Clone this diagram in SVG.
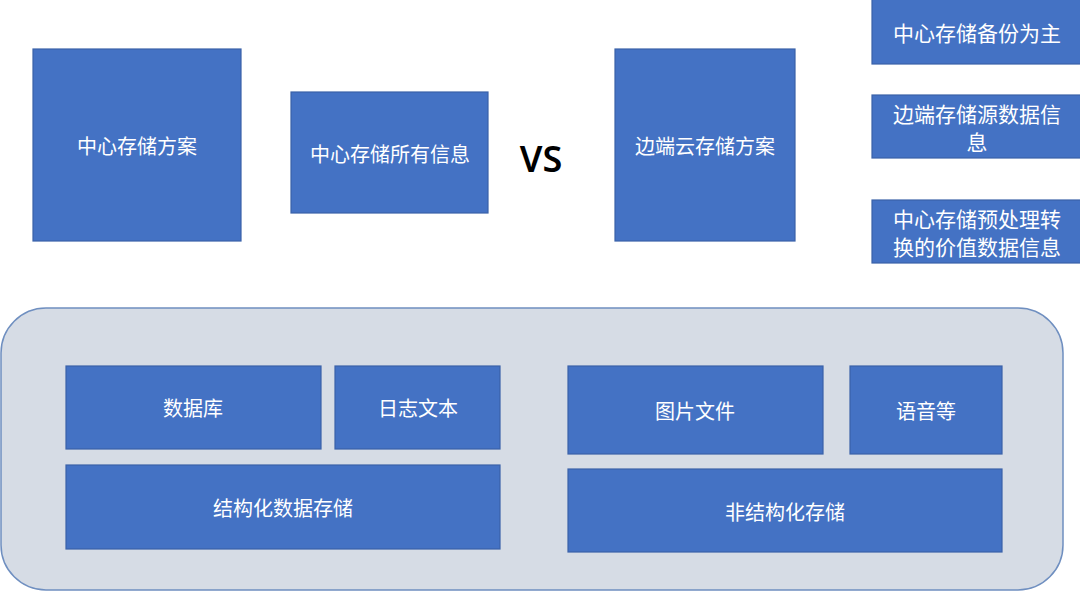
<svg xmlns="http://www.w3.org/2000/svg" width="1080" height="591" viewBox="0 0 1080 591">
<style>
.b{fill:#4472c4;stroke:#3a62a8;stroke-width:1.2}
.t{fill:#fff;font-family:"Noto Sans CJK SC","Liberation Sans",sans-serif;font-size:20px;text-anchor:middle;dominant-baseline:central}
.s{font-size:21px}
.vs{fill:#000;font-family:"Noto Sans","Liberation Sans",sans-serif;font-size:36px;font-weight:600;text-anchor:middle;dominant-baseline:central}
</style>
<rect width="1080" height="591" fill="#fff"/>
<g id="container"><rect x="1" y="308" width="1062" height="282" rx="45" fill="#d6dce5" stroke="#6f8fc0" stroke-width="1.5"/></g>
<g id="n1"><rect class="b" x="33" y="49" width="208" height="192"/><text class="t" x="137" y="145">中心存储方案</text></g>
<g id="n2"><rect class="b" x="291" y="92" width="197" height="121"/><text class="t" x="390" y="153">中心存储所有信息</text></g>
<g id="vs"><text class="vs" x="541" y="158">VS</text></g>
<g id="n3"><rect class="b" x="615" y="49" width="180" height="192"/><text class="t" x="705" y="145">边端云存储方案</text></g>
<g id="r1"><rect class="b" x="872" y="-2" width="210" height="66"/><text class="t s" x="977" y="32">中心存储备份为主</text></g>
<g id="r2"><rect class="b" x="872" y="95" width="210" height="63"/><text class="t s" x="977" y="113">边端存储源数据信</text><text class="t s" x="977" y="141">息</text></g>
<g id="r3"><rect class="b" x="872" y="200" width="210" height="63"/><text class="t s" x="977" y="218">中心存储预处理转</text><text class="t s" x="977" y="246">换的价值数据信息</text></g>
<g id="db"><rect class="b" x="66" y="366" width="255" height="83"/><text class="t" x="193" y="407">数据库</text></g>
<g id="log"><rect class="b" x="335" y="366" width="165" height="83"/><text class="t" x="418" y="407">日志文本</text></g>
<g id="struct"><rect class="b" x="66" y="465" width="434" height="84"/><text class="t" x="283" y="507">结构化数据存储</text></g>
<g id="img"><rect class="b" x="568" y="366" width="255" height="88"/><text class="t" x="695" y="410">图片文件</text></g>
<g id="voice"><rect class="b" x="850" y="366" width="152" height="88"/><text class="t" x="926" y="410">语音等</text></g>
<g id="unstruct"><rect class="b" x="568" y="469" width="434" height="83"/><text class="t" x="785" y="511">非结构化存储</text></g>
<g id="connectors"></g>
</svg>
